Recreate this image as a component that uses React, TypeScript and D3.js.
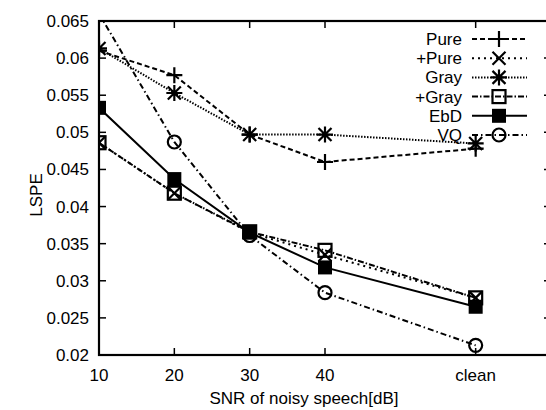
import React from 'react';
import * as d3 from 'd3';

const xValues = [10, 20, 30, 40, 60];
const xTickLabels = ['10', '20', '30', '40', 'clean'];
const yTicks = [0.02, 0.025, 0.03, 0.035, 0.04, 0.045, 0.05, 0.055, 0.06, 0.065];

const seriesNames = ['Pure', '+Pure', 'Gray', '+Gray', 'EbD', 'VQ'];
const pure = [0.061, 0.0577, 0.0497, 0.046, 0.0478];
const plusPure = [0.0486, 0.0418, 0.0365, 0.0335, 0.0277];
const gray = [0.0613, 0.0553, 0.0497, 0.0497, 0.0485];
const plusGray = [0.0486, 0.0418, 0.0366, 0.0341, 0.0277];
const ebd = [0.0533, 0.0437, 0.0365, 0.0318, 0.0265];
const vq = [0.066, 0.0487, 0.0361, 0.0284, 0.0213];

const seriesValues = [pure, plusPure, gray, plusGray, ebd, vq];
const dashes = ['5 3', '2 4', '1.5 1.5', '6 2 1.5 2', 'none', '6 3 1.5 3'];
const markers = ['plus', 'cross', 'star', 'square', 'fsquare', 'circle'];

const left = 99, right = 551, top = 21, bottom = 355;
const x = d3.scaleLinear().domain([10, 70]).range([left, right]);
const y = d3.scaleLinear().domain([0.02, 0.065]).range([bottom, top]);

function Marker({ type, cx, cy }: { type: string; cx: number; cy: number }) {
  const s = 8;
  const c = 6.5;
  const st = { stroke: '#000', strokeWidth: 2.2, fill: 'none' };
  if (type === 'plus')
    return <path d={`M${cx - s},${cy}H${cx + s}M${cx},${cy - s}V${cy + s}`} {...st} />;
  if (type === 'cross')
    return <path d={`M${cx - c},${cy - c}L${cx + c},${cy + c}M${cx - c},${cy + c}L${cx + c},${cy - c}`} {...st} />;
  if (type === 'star')
    return (
      <path
        d={`M${cx - s},${cy}H${cx + s}M${cx},${cy - s}V${cy + s}M${cx - c},${cy - c}L${cx + c},${cy + c}M${cx - c},${cy + c}L${cx + c},${cy - c}`}
        {...st}
      />
    );
  if (type === 'square') return <rect x={cx - 6.5} y={cy - 6.5} width={13} height={13} {...st} />;
  if (type === 'fsquare') return <rect x={cx - 7} y={cy - 7} width={14} height={14} fill="#000" />;
  return <circle cx={cx} cy={cy} r={6.5} {...st} />;
}

export default function App() {
  const line = d3
    .line<number>()
    .x((d, i) => x(xValues[i]))
    .y((d) => y(d));

  const font = { fontFamily: '"Liberation Sans", Arial, sans-serif', fontSize: 17 };

  return (
    <svg width={546} height={410} style={{ position: 'absolute', left: 0, top: 0, background: '#fff' }}>
      <defs>
        <clipPath id="plot">
          <rect x={left} y={top} width={right - left} height={bottom - top} />
        </clipPath>
      </defs>
      <rect x={0} y={0} width={546} height={410} fill="#fff" />

      {/* ticks */}
      {yTicks.map((t) => (
        <g key={t}>
          <line x1={left} x2={left + 7} y1={y(t)} y2={y(t)} stroke="#000" strokeWidth={1.5} />
          <line x1={right} x2={right - 7} y1={y(t)} y2={y(t)} stroke="#000" strokeWidth={1.5} />
          <text x={89} y={y(t) + 6} textAnchor="end" {...font}>
            {d3.format('')(t)}
          </text>
        </g>
      ))}
      {xValues.map((v, i) => (
        <g key={v}>
          <line x1={x(v)} x2={x(v)} y1={bottom} y2={bottom - 7} stroke="#000" strokeWidth={1.5} />
          <line x1={x(v)} x2={x(v)} y1={top} y2={top + 7} stroke="#000" strokeWidth={1.5} />
          <text x={x(v)} y={381} textAnchor="middle" {...font}>
            {xTickLabels[i]}
          </text>
        </g>
      ))}
      <rect x={left} y={top} width={right - left} height={bottom - top} fill="none" stroke="#000" strokeWidth={2.2} />

      <text transform="translate(42,195) rotate(-90)" textAnchor="middle" {...font}>
        LSPE
      </text>
      <text x={304} y={404} textAnchor="middle" {...font}>
        SNR of noisy speech[dB]
      </text>

      {/* series */}
      <g clipPath="url(#plot)">
        {seriesValues.map((vals, k) => (
          <path
            key={k}
            d={line(vals) || ''}
            fill="none"
            stroke="#000"
            strokeWidth={2}
            strokeDasharray={dashes[k]}
          />
        ))}
        {seriesValues.map((vals, k) =>
          vals.map((v, i) => <Marker key={k + '-' + i} type={markers[k]} cx={x(xValues[i])} cy={y(v)} />)
        )}
      </g>

      {/* legend */}
      {seriesNames.map((n, k) => {
        const ly = 39 + k * 19.2;
        return (
          <g key={n}>
            <text x={462} y={ly + 6} textAnchor="end" {...font}>
              {n}
            </text>
            <line x1={472} x2={527} y1={ly} y2={ly} stroke="#000" strokeWidth={2} strokeDasharray={dashes[k]} />
            <Marker type={markers[k]} cx={499} cy={ly} />
          </g>
        );
      })}
    </svg>
  );
}
